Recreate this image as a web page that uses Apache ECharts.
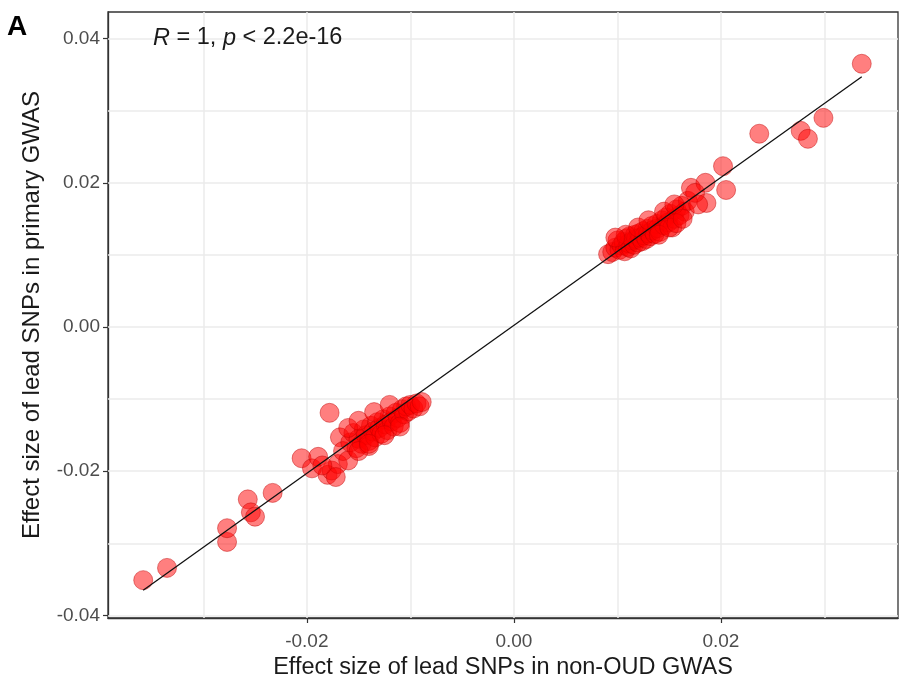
<!DOCTYPE html>
<html><head><meta charset="utf-8">
<script src="https://cdn.jsdelivr.net/npm/echarts@6/dist/echarts.min.js"></script>
<style>html,body{margin:0;padding:0;background:#fff}#c{width:901px;height:680px}</style>
</head><body><div id="c"></div>
<script>
// Effect sizes of lead SNPs: x = non-OUD GWAS, y = primary GWAS
const highX = [0.0091,0.0095,0.0098,0.0100,0.0102,0.0104,0.0106,0.0107,0.0109,0.0110,0.0111,0.0112,0.0113,0.0115,0.0116,0.0117,0.0118,0.0120,0.0121,0.0122,0.0124,0.0125,0.0126,0.0128,0.0129,0.0130,0.0132,0.0133,0.0134,0.0136,0.0138,0.0139,0.0141,0.0143,0.0145,0.0147,0.0149,0.0151,0.0153,0.0155,0.0157,0.0160,0.0162,0.0165,0.0168,0.0171,0.0185,0.0186,0.0202,0.0205,0.0237,0.0277,0.0284,0.0299,0.0336,
  0.0108,0.0120,0.0130,0.0145,0.0155,0.0140,0.0150,0.0157,0.0163,0.0098,0.0175,0.0178];
const highY = [0.0101,0.0104,0.0110,0.0120,0.0107,0.0113,0.0118,0.0105,0.0123,0.0111,0.0116,0.0126,0.0109,0.0120,0.0114,0.0128,0.0122,0.0117,0.0130,0.0124,0.0119,0.0133,0.0127,0.0122,0.0136,0.0130,0.0126,0.0140,0.0134,0.0129,0.0143,0.0137,0.0132,0.0148,0.0141,0.0152,0.0145,0.0157,0.0138,0.0150,0.0163,0.0155,0.0168,0.0160,0.0175,0.0193,0.0200,0.0172,0.0223,0.0190,0.0268,0.0272,0.0261,0.0290,0.0365,
  0.0128,0.0138,0.0148,0.0160,0.0170,0.0128,0.0138,0.0144,0.0150,0.0124,0.0186,0.0170];
const lowX = [-0.0358,-0.0335,-0.0277,-0.0277,-0.0257,-0.0254,-0.0250,-0.0233,-0.0205,-0.0195,-0.0189,-0.0180,-0.0178,-0.0176,-0.0170,-0.0168,-0.0165,-0.0160,-0.0158,-0.0155,-0.0152,-0.0150,-0.0147,-0.0145,-0.0143,-0.0140,-0.0140,-0.0138,-0.0136,-0.0134,-0.0132,-0.0130,-0.0128,-0.0126,-0.0124,-0.0122,-0.0120,-0.0118,-0.0116,-0.0114,-0.0112,-0.0110,-0.0108,-0.0106,-0.0104,-0.0102,-0.0100,-0.0097,-0.0094,-0.0091,-0.0089,
  -0.0160,-0.0150,-0.0135,-0.0120,-0.0150,-0.0140,-0.0125,-0.0110,-0.0185,-0.0172];
const lowY = [-0.0351,-0.0334,-0.0298,-0.0279,-0.0239,-0.0257,-0.0263,-0.0230,-0.0182,-0.0196,-0.0180,-0.0205,-0.0119,-0.0199,-0.0190,-0.0153,-0.0172,-0.0185,-0.0160,-0.0147,-0.0168,-0.0155,-0.0162,-0.0142,-0.0150,-0.0158,-0.0165,-0.0137,-0.0145,-0.0153,-0.0132,-0.0140,-0.0148,-0.0128,-0.0135,-0.0143,-0.0124,-0.0131,-0.0138,-0.0119,-0.0126,-0.0133,-0.0114,-0.0121,-0.0110,-0.0117,-0.0108,-0.0113,-0.0106,-0.0110,-0.0104,
  -0.0140,-0.0130,-0.0118,-0.0108,-0.0172,-0.0162,-0.0150,-0.0138,-0.0192,-0.0208];
// fitted line end points
const fitX = [-0.0358, 0.0336];
const fitY = [-0.0365, 0.0347];
// axes
const xTicks = [-0.02, 0, 0.02];
const yTicks = [-0.04, -0.02, 0, 0.02, 0.04];
const xGrid = [-0.03, -0.02, -0.01, 0, 0.01, 0.02, 0.03];
const yGrid = [-0.04, -0.03, -0.02, -0.01, 0, 0.01, 0.02, 0.03, 0.04];
const xRange = [-0.0392, 0.0371];
const yRange = [-0.04035, 0.04368];
const xTitle = 'Effect size of lead SNPs in non-OUD GWAS';
const yTitle = 'Effect size of lead SNPs in primary GWAS';

const FONT = 'Liberation Sans, Arial, sans-serif';
const pts = highX.map((x, i) => [x, highY[i]]).concat(lowX.map((x, i) => [x, lowY[i]]));
const gridLines = xGrid.map(v => ({xAxis: v})).concat(yGrid.map(v => ({yAxis: v})));

const chart = echarts.init(document.getElementById('c'), null, {renderer: 'canvas'});
chart.setOption({
  animation: false,
  backgroundColor: '#fff',
  grid: {left: 108, right: 3, top: 12, bottom: 62, containLabel: false, outerBoundsMode: 'none',
    show: true, borderColor: '#333', borderWidth: 1.3, backgroundColor: 'transparent'},
  xAxis: {
    type: 'value', min: xRange[0], max: xRange[1],
    splitLine: {show: false},
    axisLine: {show: true, onZero: false, lineStyle: {color: '#333', width: 1.3}},
    axisTick: {show: true, customValues: xTicks, length: 5, lineStyle: {color: '#333', width: 1.2}},
    axisLabel: {customValues: xTicks, formatter: v => v.toFixed(2), color: '#4d4d4d', fontSize: 19, margin: 14, fontFamily: FONT},
    name: xTitle, nameLocation: 'middle', nameGap: 38,
    nameTextStyle: {fontSize: 23.5, color: '#1a1a1a', fontFamily: FONT}
  },
  yAxis: {
    type: 'value', min: yRange[0], max: yRange[1],
    splitLine: {show: false},
    axisLine: {show: true, onZero: false, lineStyle: {color: '#333', width: 1.3}},
    axisTick: {show: true, customValues: yTicks, length: 5, lineStyle: {color: '#333', width: 1.2}},
    axisLabel: {customValues: yTicks, formatter: v => v.toFixed(2), color: '#4d4d4d', fontSize: 19, margin: 8, fontFamily: FONT},
    name: yTitle, nameLocation: 'middle', nameGap: 64,
    nameTextStyle: {fontSize: 24, color: '#1a1a1a', fontFamily: FONT}
  },
  series: [
    {
      type: 'line', data: [], z: 1, silent: true,
      markLine: {silent: true, z: 1, symbol: 'none', label: {show: false}, animation: false,
        lineStyle: {color: '#ebebeb', width: 1.5, type: 'solid'}, data: gridLines}
    },
    {
      type: 'scatter', data: pts, z: 3, symbolSize: 19,
      itemStyle: {color: 'rgba(255,0,0,0.5)', borderColor: 'rgba(190,0,0,0.45)', borderWidth: 1, opacity: 1}
    },
    {
      type: 'line', data: fitX.map((x, i) => [x, fitY[i]]), z: 4, symbol: 'none', silent: true,
      lineStyle: {color: '#111', width: 1.3}
    }
  ],
  graphic: [
    {type: 'text', left: 7, top: 13, z: 100, style: {text: 'A', font: 'bold 28px ' + FONT, fill: '#000'}},
    {type: 'text', left: 153, top: 26, z: 100, style: {
      text: '{i|R} = 1, {i|p} < 2.2e-16',
      rich: {i: {fontStyle: 'italic', fontSize: 23.5, fontFamily: FONT, fill: '#1a1a1a'}},
      font: '23.5px ' + FONT, fill: '#1a1a1a'}}
  ]
});
</script></body></html>
